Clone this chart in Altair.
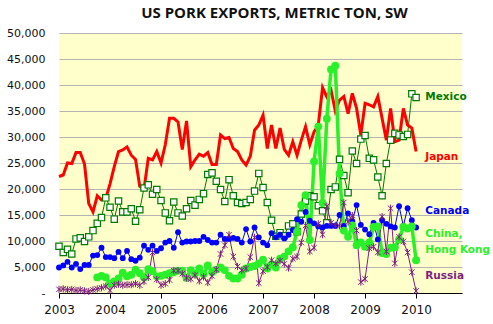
import altair as alt
import pandas as pd

# Monthly values, Jan 2003 .. Jan 2010 (85 months), metric tons
mexico = [9000, 7800, 8400, 7500, 10400, 10600, 9900, 10800, 12000, 13400, 14500, 18300,
          16500, 14200, 17700, 15600, 15600, 16200, 13800, 16000, 20200, 20800, 19000, 19900,
          17800, 15400, 13900, 17500, 15400, 14800, 16200, 17800, 16900, 18000, 19100, 22800,
          23100, 21500, 19900, 17600, 21800, 18700, 17400, 17200, 17400, 18000, 19600, 23000,
          20300, 17400, 14000, 10900, 11600, 11000, 12900, 13300, 11800, 15200, 17700, 18700,
          18500, 16800, 15800, 13500, 19900, 20400, 25700, 22600, 19300, 27300, 24900, 29600,
          30300, 25900, 25600, 22300, 18700, 24900, 29400, 30700, 30400, 30100, 30500, 38300,
          37600]
japan = [22400, 22700, 25000, 24900, 27000, 27000, 24800, 17200, 15600, 18700, 17900, 18200,
         21000, 24300, 27200, 27500, 28100, 26500, 25700, 20500, 20000, 25900, 25600, 27200,
         25000, 28500, 33600, 33600, 32900, 27600, 33100, 24300, 25600, 26700, 26300, 27000,
         24700, 24700, 30400, 29700, 29900, 27800, 27200, 25600, 24600, 26300, 31300, 32300,
         34200, 27800, 32300, 27800, 31700, 27600, 26500, 29100, 26500, 29400, 32000, 28500,
         31000, 32300, 39500, 37700, 39000, 35000, 37100, 37800, 34500, 38400, 35500, 30400,
         36500, 36200, 35800, 37800, 33600, 29400, 35500, 29100, 29400, 35500, 32300, 31700,
         27200]
canada = [4900, 5300, 6000, 4900, 5600, 4600, 5400, 5400, 7200, 7300, 8700, 6900,
          6900, 6700, 7900, 6700, 8100, 6500, 6200, 6800, 9100, 8300, 9100, 8100,
          8600, 9700, 10000, 8700, 11700, 9700, 9900, 9900, 10000, 10000, 10800, 10200,
          9700, 9700, 11200, 10400, 10400, 10600, 10400, 9700, 12300, 9900, 12600, 10700,
          9700, 9200, 11500, 10700, 11200, 10500, 11200, 12100, 14200, 13700, 15600, 13900,
          13400, 12800, 12600, 12900, 12900, 12900, 15000, 12900, 15300, 13800, 16900, 13100,
          12200, 11300, 13500, 10300, 14000, 13300, 12800, 12600, 16700, 12900, 16300, 14000,
          12600]
china = [None] * 9 + [
          3000, 3300, 3000,
          1800, 2200, 2800, 3900, 3200, 3500, 4500, 3800, 3000, 4600, 4200, 3200,
          3300, 3500, 3800, 4000, 4300, 4300, 2900, 4400, 3700, 4700, 3600, 5300,
          4000, 4500, 4900, 4400, 3300, 2800, 2800, 3500, 4700, 5000, 5200, 5700,
          6400, 4700, 5500, 4900, 6600, 7000, 8000, 8800, 11800, 16900, 18800, 10200,
          25300, 32000, 17300, 33500, 43000, 43700, 23000, 12000, 10800, 13000, 9200, 9700,
          8900, 9700, 12700, 12800, 7700, 7500, 8700, 8800, 10300, 12700, 12400, 12800,
          6300]
russia = [700, 800, 600, 700, 500, 600, 400, 300, 600, 800, 1000, 1300,
          500, 1500, 1700, 1500, 1600, 1600, 1800, 1500, 2200, 3000, 7800, 2600,
          1500, 1800, 2500, 4300, 4300, 3700, 2900, 2700, 3400, 2300, 3100, 2000,
          3300, 4500, 7500, 9200, 11200, 7000, 5100, 4400, 4700, 6900, 10700, 1900,
          4200, 5000, 6300, 5700, 6200, 5600, 4800, 6600, 7000, 9700, 13000, 8000,
          8700, 13300, 11200, 16700, 13500, 13000, 12900, 17400, 13700, 14900, 12000, 2100,
          2700, 8600, 8900, 7800, 14700, 8000, 16300, 5700, 10800, 9900, 7800, 4000,
          400]

year_ticks = [2003, 2004, 2005, 2006, 2007, 2008, 2009, 2010]
y_ticks = [0, 5000, 10000, 15000, 20000, 25000, 30000, 35000, 40000, 45000, 50000]

# end-of-line labels (annotation text, anchored in data units)
label_text = ["Mexico", "Japan", "Canada", "China,", "Hong Kong", "Russia"]
label_series = ["Mexico", "Japan", "Canada", "China", "China", "Russia"]
label_value = [37700, 26200, 15800, 11350, 8250, 3300]
label_time = 2010.18

colors = {"Mexico": "#007A00", "Japan": "#FF0000", "Canada": "#0000FF",
          "China": "#2AF02A", "Russia": "#7F1F7F"}


def frame(name, vals):
    rows = []
    for i, v in enumerate(vals):
        if v is None:
            continue
        rows.append({"series": name, "t": 2003 + i / 12.0, "v": v})
    return pd.DataFrame(rows)


x_enc = alt.X("t:Q",
              scale=alt.Scale(domain=[2003, 2010.9], nice=False, zero=False),
              axis=alt.Axis(values=year_ticks, format="d", title=None, grid=False,
                            tickSize=5, tickColor="#000000", domainColor="#000000",
                            domainWidth=1.2, labelFontSize=12, labelFont="DejaVu Sans",
                            labelColor="#111111", labelPadding=6, labelFlush=False))
y_enc = alt.Y("v:Q",
              scale=alt.Scale(domain=[0, 50000], nice=False),
              axis=alt.Axis(values=y_ticks, title=None, grid=True, gridColor="#B4B4B4",
                            gridWidth=1, ticks=False, domain=False,
                            labelExpr="datum.value == 0 ? '-\u00a0\u00a0\u00a0\u00a0\u00a0' : format(datum.value, ',')",
                            labelFontSize=11, labelFont="DejaVu Sans", labelColor="#111111",
                            labelPadding=14))

d_mex = frame("Mexico", mexico)
d_jap = frame("Japan", japan)
d_can = frame("Canada", canada)
d_chn = frame("China", china)
d_rus = frame("Russia", russia)

mex_line = alt.Chart(d_mex).mark_line(color=colors["Mexico"], strokeWidth=1).encode(x=x_enc, y=y_enc)
mex_pts = alt.Chart(d_mex).mark_point(shape="square", filled=True, fill="#FFFFFF",
                                      stroke=colors["Mexico"], strokeWidth=1.2, size=40,
                                      opacity=1).encode(x=x_enc, y=y_enc)
jap_line = alt.Chart(d_jap).mark_line(color=colors["Japan"], strokeWidth=3).encode(x=x_enc, y=y_enc)
can_line = alt.Chart(d_can).mark_line(color=colors["Canada"], strokeWidth=1).encode(x=x_enc, y=y_enc)
can_pts = alt.Chart(d_can).mark_circle(color=colors["Canada"], size=34, opacity=1).encode(x=x_enc, y=y_enc)
chn_line = alt.Chart(d_chn).mark_line(color=colors["China"], strokeWidth=3.5).encode(x=x_enc, y=y_enc)
chn_pts = alt.Chart(d_chn).mark_circle(color=colors["China"], size=62, opacity=1).encode(x=x_enc, y=y_enc)
rus_line = alt.Chart(d_rus).mark_line(color=colors["Russia"], strokeWidth=1).encode(x=x_enc, y=y_enc)
rus_pts = alt.Chart(d_rus).mark_point(shape="M-1,-1L1,1M-1,1L1,-1M0,-1.3L0,1.3", filled=False,
                                      stroke=colors["Russia"], strokeWidth=1, size=30,
                                      opacity=1).encode(x=x_enc, y=y_enc)

labels_df = pd.DataFrame({"text": label_text,
                          "color": [colors[s] for s in label_series],
                          "v": label_value,
                          "t": [label_time] * len(label_text)})
labels = alt.Chart(labels_df).mark_text(align="left", baseline="middle", fontWeight="bold",
                                        fontSize=10.5, font="DejaVu Sans").encode(
    x=x_enc, y=y_enc, text="text:N", color=alt.Color("color:N", scale=None))

chart = alt.layer(
    mex_line, jap_line, can_line, chn_line, rus_line,
    mex_pts, can_pts, chn_pts, rus_pts, labels
).properties(
    width=403, height=260,
    padding={"left": 59, "top": 33, "right": 31, "bottom": 31},
    autosize="none",
    title=alt.TitleParams("US PORK EXPORTS, METRIC TON, SW", font="Open Sans",
                          fontSize=15, fontWeight="bold", color="#111111",
                          anchor="middle", offset=6, dx=14),
    background="#FFFFFF"
).configure_view(fill="#FFFFCC", strokeWidth=0)

chart.save("out.html", embed_options={"renderer": "svg", "actions": False})
